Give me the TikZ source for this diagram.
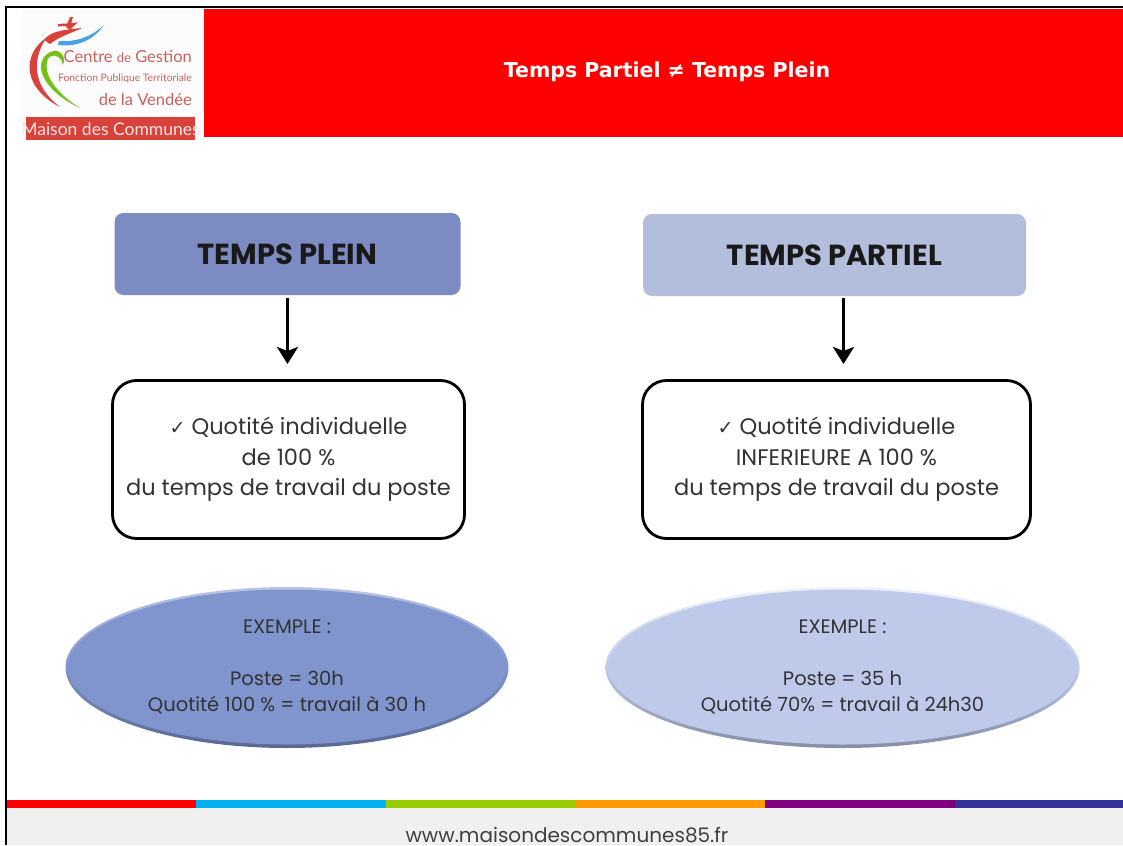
\documentclass[tikz,border=0pt]{standalone}
\usepackage{fontspec}
\usetikzlibrary{shapes.geometric,arrows.meta,positioning}
\setmainfont{Poppins}
\newfontfamily\djv{DejaVu Sans}
\newfontfamily\lgo{Lato}
\definecolor{bluedark}{HTML}{7C8CC2}
\definecolor{bluelight}{HTML}{B3BEDC}
\definecolor{elldark}{HTML}{8094CE}
\definecolor{elllight}{HTML}{BFCAEA}
\definecolor{logored}{HTML}{D9423A}
\definecolor{logotext}{HTML}{C9625C}
\tikzset{
  x=1pt,y=-1pt,
  headbox/.style={rounded corners=9pt,minimum height=82pt,inner sep=0pt,font=\fontsize{29}{32}\selectfont\bfseries,text=black!90},
  infobox/.style={draw=black,line width=2.8pt,rounded corners=24pt,fill=white,minimum height=158pt,align=center,inner sep=0pt,font=\fontsize{22.5}{30.5}\selectfont\fontseries{l}\selectfont,text=black!80},
  arrowline/.style={line width=3.6pt,-{Stealth[length=17pt,width=21pt,inset=4pt]}},
  exell/.style={ellipse,minimum width=441pt,minimum height=158pt,inner sep=0pt,align=center,font=\fontsize{19.5}{26.3}\selectfont\fontseries{l}\selectfont,text=black!80},
  band/.style={minimum height=8pt,inner sep=0pt,anchor=north west},
}
\begin{document}
\begin{tikzpicture}
\useasboundingbox (0,0) rectangle (1123,845);
\fill[white] (0,0) rectangle (1123,845);
% frame
\fill[black] (5,6) rectangle (1123,8);
\fill[black] (5,6) rectangle (7,845);
% footer
\fill[black!6] (7,808) rectangle (1123,845);
\node[band,fill={rgb,255:red,255;green,0;blue,0},minimum width=189pt] (b1) at (7,800) {};
\node[band,fill={rgb,255:red,0;green,176;blue,240},minimum width=190pt] (b2) at (196,800) {};
\node[band,fill={rgb,255:red,153;green,204;blue,0},minimum width=189pt] (b3) at (386,800) {};
\node[band,fill={rgb,255:red,255;green,153;blue,0},minimum width=190pt] (b4) at (575,800) {};
\node[band,fill={rgb,255:red,128;green,0;blue,128},minimum width=190pt] (b5) at (765,800) {};
\node[band,fill={rgb,255:red,51;green,51;blue,153},minimum width=168pt] (b6) at (955,800) {};
\node[font=\fontsize{20}{24}\selectfont\fontseries{l}\selectfont,text=black!75,inner sep=0pt] (url) at (567,835) {www.maisondescommunes85.fr};
% title bar
\fill[red] (204,9) rectangle (1123,137);
\node[font=\djv\bfseries\fontsize{20.5}{24}\selectfont,text=white,inner sep=0pt] (title) at (667,72) {Temps Partiel ≠ Temps Plein};
% logo
\fill[black!1] (22,9) rectangle (204,140);
\fill[logored] (26,117) rectangle (195,140);
\node[font=\lgo\fontsize{17.5}{20}\selectfont,text=white!90!red,inner sep=0pt] (lg4) at (110.5,129) {Maison des Communes};
\node[font=\lgo\fontsize{16.5}{20}\selectfont,text=logotext,anchor=east,inner sep=0pt] (lg1) at (192,57) {Centre {\fontsize{13}{20}\selectfont de} Gestion};
\node[font=\lgo\fontsize{10.3}{12}\selectfont,text=logotext,anchor=east,inner sep=0pt] (lg2) at (192,79) {Fonction Publique Territoriale};
\node[font=\lgo\fontsize{16.5}{20}\selectfont,text=logotext,anchor=east,inner sep=0pt] (lg3) at (192,99) {de la Vendée};
\fill[logored] (60,107) .. controls (40,97) and (27,80) .. (30,62) .. controls (32,50) and (40,42) .. (46,38) .. controls (40,48) and (36,58) .. (37,70) .. controls (38,85) and (48,98) .. (60,107) -- cycle;
\fill[logored] (44,40) .. controls (50,32) and (60,30) .. (82,28) .. controls (72,33) and (60,36) .. (50,44) -- cycle;
\fill[logored] (66,27) -- (70,17) -- (73,17) -- (71,24) -- (78,22) -- (70,30) -- cycle;
\fill[logored] (58,24) -- (75,23) -- (74,25.500) -- (58,26.500) -- cycle;
\fill[black!0,fill=cyan!75!blue!75] (59,41) .. controls (75,42) and (90,38) .. (104,25) .. controls (92,42) and (75,47) .. (58,45) -- cycle;
\fill[green!55!black!60!yellow!90] (80,108) .. controls (58,98) and (42,82) .. (41,68) .. controls (40,57) and (50,50) .. (57,51) .. controls (63,52) and (66,60) .. (63,65) .. controls (62,58) and (56,54) .. (51,56) .. controls (45,59) and (45,72) .. (52,82) .. controls (58,92) and (70,102) .. (80,108) -- cycle;
% head boxes
\node[headbox,fill=bluedark,minimum width=346pt] (hp) at (287.500,254) {TEMPS PLEIN};
\node[headbox,fill=bluelight,minimum width=383pt] (ht) at (834.500,255) {TEMPS PARTIEL};
% info boxes
\node[infobox,minimum width=352pt] (ip) at (288.500,459.500) {{\djv\fontsize{19}{24}\selectfont ✓} Quotité individuelle\\de 100 \%\\du temps de travail du poste};
\node[infobox,minimum width=388pt] (it) at (836.500,459.500) {{\djv\fontsize{19}{24}\selectfont ✓} Quotité individuelle\\INFERIEURE A 100 \%\\du temps de travail du poste};
% arrows
\coordinate (ap) at (287.500,364);
\coordinate (at) at (843.500,364);
\coordinate (sp) at (287.500,298);
\coordinate (st) at (843.500,298);
\draw[arrowline] (sp) -- (ap);
\draw[arrowline] (st) -- (at);
% ellipses
\shade[top color=elldark!55!white,bottom color=elldark!70!black,middle color=elldark] (287,667.500) ellipse [x radius=221.500,y radius=80.500];
\shade[top color=elllight!25!white,bottom color=elllight!70!black,middle color=elllight] (842.500,667.500) ellipse [x radius=237,y radius=80.500];
\node[exell,fill=elldark,minimum width=437pt,minimum height=155pt] (ep) at (287,667) {EXEMPLE :\\[26.3pt]Poste = 30h\\Quotité 100 \% = travail à 30 h};
\node[exell,fill=elllight,minimum width=468pt,minimum height=155pt] (et) at (842.500,667) {EXEMPLE :\\[26.3pt]Poste = 35 h\\Quotité 70\% = travail à 24h30};
\end{tikzpicture}
\end{document}
